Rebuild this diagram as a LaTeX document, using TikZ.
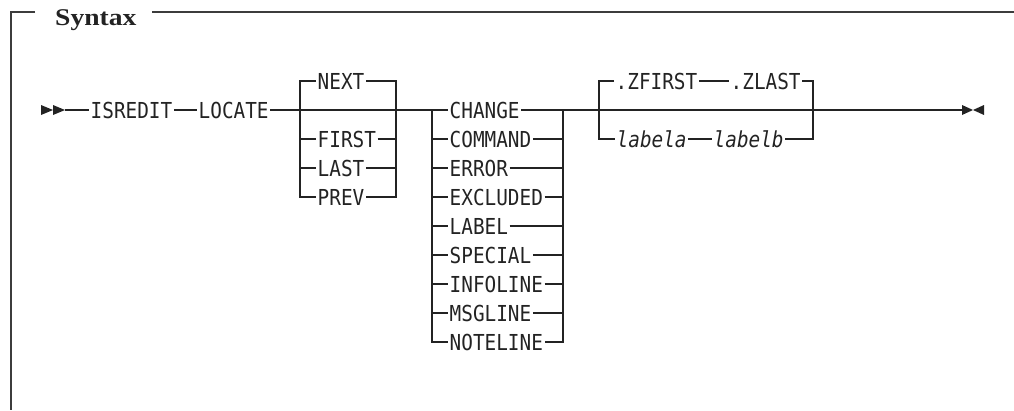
\documentclass[tikz,border=0pt]{standalone}
\usepackage{fontspec}
\usetikzlibrary{calc}
\newfontfamily\synmono[FakeStretch=0.88]{DejaVu Sans Mono}
\newfontfamily\synhead[FakeStretch=1.15]{Liberation Serif}
\definecolor{ink}{RGB}{35,35,35}
\definecolor{rim}{RGB}{60,60,60}

\begin{document}
\begin{tikzpicture}[x=1pt, y=-1pt,
    kw/.style={inner sep=0pt, inner xsep=1.5pt, text height=16pt, text depth=0pt,
               anchor=west, text=ink, font=\synmono\fontsize{22}{24}\selectfont},
    var/.style={kw, font=\synmono\itshape\fontsize{22}{24}\selectfont},
    rail/.style={draw=ink, line width=1.2pt},
    rim/.style={draw=rim, line width=1.5pt}]

    \useasboundingbox (0,0) rectangle (1014,410);

    % frame and title
    \node[anchor=base west, inner sep=0pt, text=ink, font=\synhead\bfseries\fontsize{24}{26}\selectfont]
      (title) at (55,25) {Syntax};
    \draw[rim] (35,12) -- (11,12) -- (11,410);
    \draw[rim] (152,12) -- (1014,12);

    % keywords on the main line
    \coordinate (m0) at (65,110);
    \node[kw] (isredit) at (89,110)  {ISREDIT};
    \node[kw] (locate)  at (197,110) {LOCATE};
    \fill[ink] (41,105) -- (53,110) -- (41,115) -- cycle;
    \fill[ink] (53,105) -- (65,110) -- (53,115) -- cycle;
    \draw[rail] (m0) -- (isredit);
    \draw[rail] (isredit) -- (locate);

    % direction
    \coordinate (g1in)  at (300,110);
    \coordinate (g1out) at (396,110);
    \node[kw] (next)  at (316,81)  {NEXT};
    \node[kw] (first) at (316,139) {FIRST};
    \node[kw] (last)  at (316,168) {LAST};
    \node[kw] (prev)  at (316,197) {PREV};
    \draw[rail] (next.west) -- (g1in |- next.west) -- (g1in |- prev.west) -- (prev.west);
    \draw[rail] (next.east) -- (g1out |- next.east) -- (g1out |- prev.east) -- (prev.east);
    \draw[rail] (g1in |- first.west) -- (first.west);
    \draw[rail] (first.east) -- (g1out |- first.east);
    \draw[rail] (g1in |- last.west) -- (last.west);
    \draw[rail] (last.east) -- (g1out |- last.east);

    % kind of line
    \coordinate (g2in)  at (432,110);
    \coordinate (g2out) at (563,110);
    \node[kw] (change)   at (448,110) {CHANGE};
    \node[kw] (command)  at (448,139) {COMMAND};
    \node[kw] (error)    at (448,168) {ERROR};
    \node[kw] (excluded) at (448,197) {EXCLUDED};
    \node[kw] (label)    at (448,226) {LABEL};
    \node[kw] (special)  at (448,255) {SPECIAL};
    \node[kw] (infoline) at (448,284) {INFOLINE};
    \node[kw] (msgline)  at (448,313) {MSGLINE};
    \node[kw] (noteline) at (448,342) {NOTELINE};
    \draw[rail] (g2in) -- (g2in |- noteline.west) -- (noteline.west);
    \draw[rail] (g2out) -- (g2out |- noteline.east) -- (noteline.east);
    \draw[rail] (g2in) -- (change) -- (g2out);
    \draw[rail] (g2in |- command.west) -- (command.west);
    \draw[rail] (command.east) -- (g2out |- command.east);
    \draw[rail] (g2in |- error.west) -- (error.west);
    \draw[rail] (error.east) -- (g2out |- error.east);
    \draw[rail] (g2in |- excluded.west) -- (excluded.west);
    \draw[rail] (excluded.east) -- (g2out |- excluded.east);
    \draw[rail] (g2in |- label.west) -- (label.west);
    \draw[rail] (label.east) -- (g2out |- label.east);
    \draw[rail] (g2in |- special.west) -- (special.west);
    \draw[rail] (special.east) -- (g2out |- special.east);
    \draw[rail] (g2in |- infoline.west) -- (infoline.west);
    \draw[rail] (infoline.east) -- (g2out |- infoline.east);
    \draw[rail] (g2in |- msgline.west) -- (msgline.west);
    \draw[rail] (msgline.east) -- (g2out |- msgline.east);

    % range
    \coordinate (g3in)  at (599,110);
    \coordinate (g3out) at (813,110);
    \node[kw]  (zfirst) at (614,81)  {.ZFIRST};
    \node[kw]  (zlast)  at (729,81)  {.ZLAST};
    \node[var] (labela) at (615,139) {labela};
    \node[var] (labelb) at (712,139) {labelb};
    \draw[rail] (zfirst.west) -- (g3in |- zfirst.west) -- (g3in |- labela.west) -- (labela.west);
    \draw[rail] (zlast.east) -- (g3out |- zlast.east) -- (g3out |- labelb.east) -- (labelb.east);
    \draw[rail] (zfirst) -- (zlast);
    \draw[rail] (labela) -- (labelb);

    % main line and end marker
    \coordinate (m1) at (962,110);
    \draw[rail] (locate) -- (g1in) -- (g1out) -- (g2in);
    \draw[rail] (g2out) -- (g3in) -- (g3out) -- (m1);
    \draw[rail, line width=1pt] (820,109.3) -- (843,109.3);
    \fill[ink] (962,105) -- (973,110) -- (962,115) -- cycle;
    \fill[ink] (984,105) -- (973,110) -- (984,115) -- cycle;
  \end{tikzpicture}
\end{document}
